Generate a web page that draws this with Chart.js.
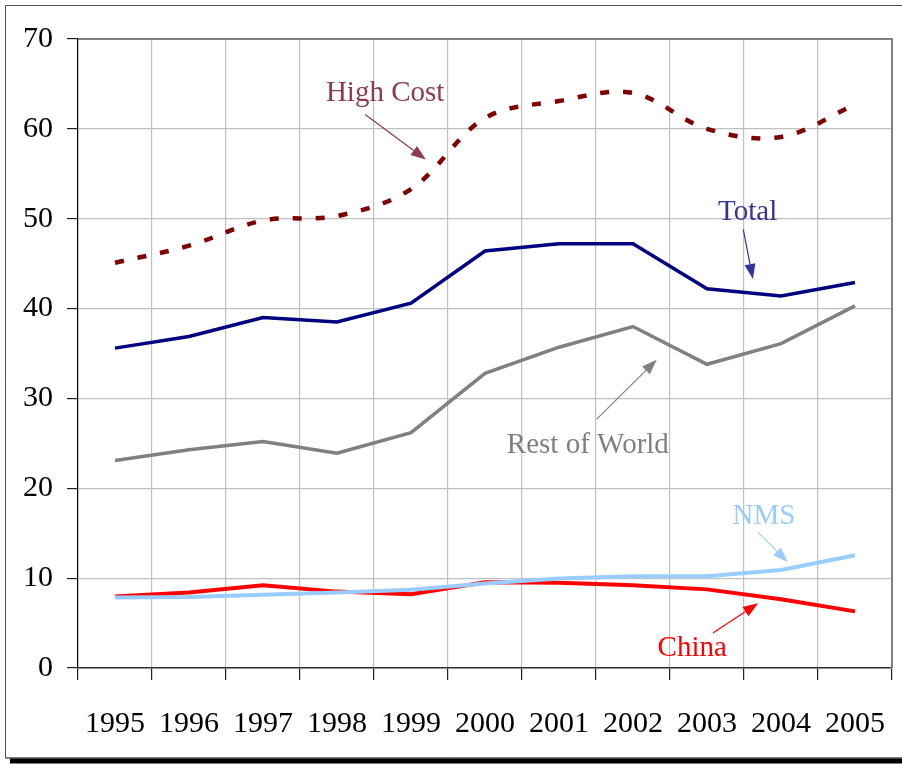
<!DOCTYPE html>
<html>
<head>
<meta charset="utf-8">
<script src="https://cdn.jsdelivr.net/npm/chart.js@4/dist/chart.umd.min.js"></script>
<style>
  html, body { margin: 0; padding: 0; background: #ffffff; }
  #wrap { position: relative; width: 902px; height: 764px; }
</style>
</head>
<body>
<div id="wrap"><canvas id="chart" width="902" height="764"></canvas></div>
<script>
// Years on the category axis
const years = ['1995', '1996', '1997', '1998', '1999', '2000', '2001', '2002', '2003', '2004', '2005'];

// Series values
const highCost    = [45.1, 47.0, 49.8, 50.3, 53.3, 61.2, 63.1, 64.0, 60.0, 59.1, 62.7];
const total       = [35.6, 36.9, 39.0, 38.5, 40.6, 46.4, 47.2, 47.2, 42.2, 41.4, 42.9];
const restOfWorld = [23.1, 24.3, 25.2, 23.9, 26.2, 32.8, 35.7, 38.0, 33.8, 36.1, 40.3];
const nms         = [7.85, 7.9, 8.15, 8.4, 8.7, 9.4, 9.95, 10.2, 10.2, 10.9, 12.55];
const china       = [7.95, 8.4, 9.2, 8.5, 8.2, 9.55, 9.5, 9.2, 8.75, 7.65, 6.3];

// Value-axis ticks
const yTicks = [0, 10, 20, 30, 40, 50, 60, 70];

// Callout labels: text position and arrow (from -> to) in axis units (category index, value)
const callouts = [
  { text: 'High Cost',     color: '#8c3c4b', at: [3.65, 64.0], from: [3.38, 61.6], to: [4.20, 56.6] },
  { text: 'Total',         color: '#333399', at: [8.55, 50.7], from: [8.49, 48.8], to: [8.62, 43.3] },
  { text: 'Rest of World', color: '#808080', at: [6.39, 24.8], from: [6.51, 27.7], to: [7.32, 34.3] },
  { text: 'NMS',           color: '#99ccff', at: [8.77, 16.9], from: [8.69, 15.1], to: [9.09, 11.8] },
  { text: 'China',         color: '#ff0000', at: [7.80, 2.2],  from: [8.08, 3.9],  to: [8.69, 7.2] }
];

const SERIF = "'Liberation Serif', 'Times New Roman', serif";

const framePlugin = {
  id: 'frame',
  beforeDraw(chart) {
    const ctx = chart.ctx;
    ctx.save();
    ctx.fillStyle = '#ffffff';
    ctx.fillRect(0, 0, chart.width, chart.height);
    // outer frame with drop shadow
    ctx.fillStyle = '#000000';
    ctx.fillRect(10, 758.5, chart.width - 10, 5);
    ctx.strokeStyle = '#555555';
    ctx.lineWidth = 1;
    ctx.beginPath();
    ctx.moveTo(chart.width, 5.5);
    ctx.lineTo(5.5, 5.5);
    ctx.lineTo(5.5, 758);
    ctx.stroke();
    ctx.strokeStyle = '#000000';
    ctx.beginPath();
    ctx.moveTo(5.5, 758);
    ctx.lineTo(chart.width, 758);
    ctx.stroke();
    ctx.restore();
  },
  beforeDatasetsDraw(chart) {
    const { ctx, chartArea: a } = chart;
    ctx.save();
    ctx.strokeStyle = '#808080';
    ctx.lineWidth = 2;
    ctx.beginPath();
    ctx.moveTo(a.left, a.top);
    ctx.lineTo(a.right, a.top);
    ctx.lineTo(a.right, a.bottom);
    ctx.stroke();
    ctx.restore();
  }
};

const calloutPlugin = {
  id: 'callouts',
  afterDatasetsDraw(chart) {
    const ctx = chart.ctx;
    const xs = chart.scales.x, ys = chart.scales.y;
    const px = p => [xs.getPixelForValue(p[0]), ys.getPixelForValue(p[1])];
    ctx.save();
    ctx.font = '29px ' + SERIF;
    ctx.textAlign = 'center';
    ctx.textBaseline = 'middle';
    callouts.forEach(c => {
      const [tx, ty] = px(c.at);
      const [x1, y1] = px(c.from);
      const [x2, y2] = px(c.to);
      ctx.fillStyle = c.color;
      ctx.fillText(c.text, tx, ty);
      const ang = Math.atan2(y2 - y1, x2 - x1);
      const head = 15, half = 5.5;
      const bx = x2 - head * Math.cos(ang), by = y2 - head * Math.sin(ang);
      ctx.strokeStyle = c.color;
      ctx.lineWidth = 1.2;
      ctx.beginPath();
      ctx.moveTo(x1, y1);
      ctx.lineTo(bx, by);
      ctx.stroke();
      ctx.beginPath();
      ctx.moveTo(x2, y2);
      ctx.lineTo(bx + half * Math.sin(ang), by - half * Math.cos(ang));
      ctx.lineTo(bx - half * Math.sin(ang), by + half * Math.cos(ang));
      ctx.closePath();
      ctx.fill();
    });
    ctx.restore();
  }
};

new Chart(document.getElementById('chart'), {
  type: 'line',
  data: {
    labels: years,
    datasets: [
      { label: 'High Cost', data: highCost, borderColor: '#800000', borderWidth: 4.5,
        borderDash: [9, 14], borderCapStyle: 'butt', tension: 0.35 },
      { label: 'Total', data: total, borderColor: '#000080', borderWidth: 3.5 },
      { label: 'Rest of World', data: restOfWorld, borderColor: '#808080', borderWidth: 3.5 },
      { label: 'NMS', data: nms, borderColor: '#99ccff', borderWidth: 4 },
      { label: 'China', data: china, borderColor: '#ff0000', borderWidth: 4 }
    ]
  },
  options: {
    responsive: false,
    devicePixelRatio: 1,
    animation: false,
    layout: { padding: { top: 39, right: 10, left: 0, bottom: 0 } },
    elements: { point: { radius: 0, hoverRadius: 0 }, line: { fill: false, tension: 0, borderJoinStyle: 'miter' } },
    plugins: { legend: { display: false }, tooltip: { enabled: false } },
    scales: {
      x: {
        type: 'category',
        offset: true,
        grid: { offset: true, color: '#c0c0c0', lineWidth: 1.2, tickLength: 12, tickColor: '#222222', tickWidth: 1.2 },
        border: { color: '#333333', width: 1.5 },
        ticks: { autoSkip: false, maxRotation: 0, padding: 26, color: '#000000',
                 font: { family: SERIF, size: 30, lineHeight: 1.2 } },
        afterFit(s) { s.height = 96; s.paddingLeft = 0; s.paddingRight = 0; }
      },
      y: {
        min: 0, max: 70,
        afterBuildTicks(s) { s.ticks = yTicks.map(v => ({ value: v })); },
        grid: { color: '#c0c0c0', lineWidth: 1.2, tickLength: 11, tickColor: '#222222', tickWidth: 1.2 },
        border: { color: '#000000', width: 1.2 },
        ticks: { padding: 14, color: '#000000', font: { family: SERIF, size: 30, lineHeight: 1.2 } },
        afterFit(s) { s.width = 78; s.paddingTop = 0; s.paddingBottom = 0; }
      }
    }
  },
  plugins: [framePlugin, calloutPlugin]
});
</script>
</body>
</html>
